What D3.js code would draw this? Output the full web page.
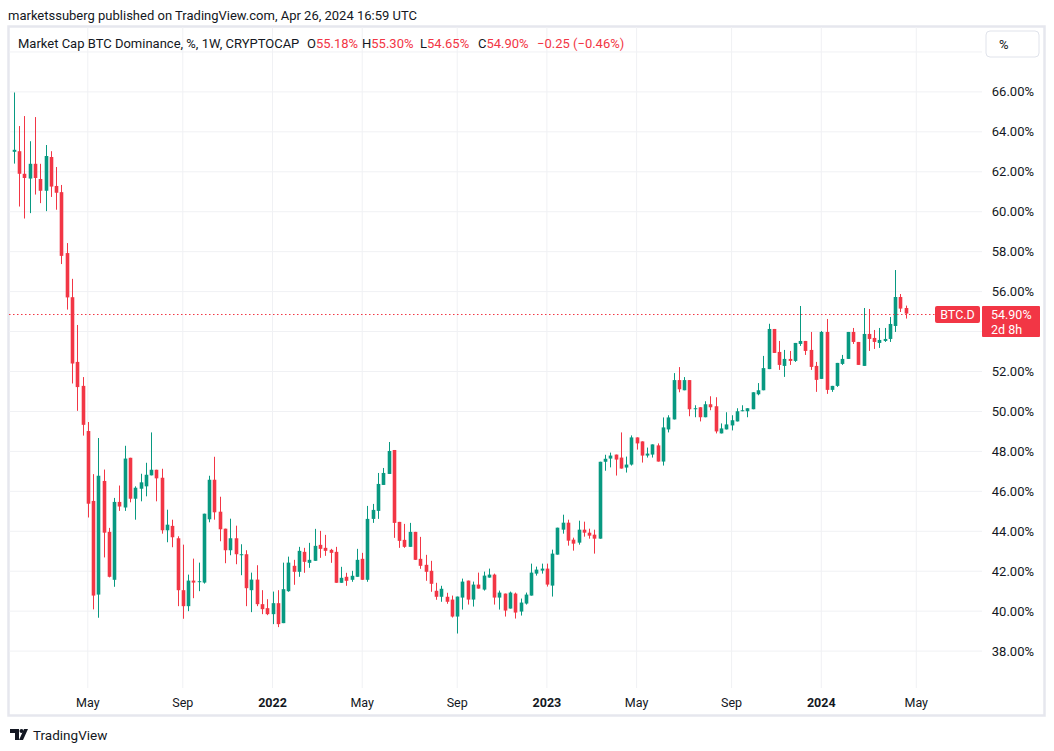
<!DOCTYPE html>
<html lang="en">
<head>
    <meta charset="UTF-8">
    <title>BTC Dominance</title>
    <script src="https://cdn.jsdelivr.net/npm/d3@7/dist/d3.min.js"></script>
    <style>
        body { margin: 0; background: #fff; }
        svg text { font-family: Roboto, "Noto Sans", sans-serif; }
    </style>
</head>
<body>

<div id="fig1"></div>

<script>
    var width = 1054;
    var height = 751;

    // weekly candles, first week starts Mon 25 Jan 2021
    const firstWeek = "2021-01-25";

    const opens = [
        63.00, 63.03, 61.90, 61.66, 62.40, 61.64, 61.05, 62.74, 61.29, 60.98,
        57.93, 55.72, 52.48, 51.28, 49.02, 45.52, 40.83, 46.52, 43.97, 41.57,
        45.47, 45.19, 47.68, 45.63, 46.13, 46.25, 46.80, 47.08, 46.68, 44.05,
        44.27, 43.65, 41.05, 40.25, 41.53, 41.47, 41.43, 44.60, 46.58, 44.98,
        44.13, 43.05, 43.65, 42.83, 42.85, 41.05, 41.58, 40.35, 40.15, 39.85,
        40.40, 39.40, 41.00, 42.27, 41.97, 42.97, 42.42, 42.52, 43.32, 43.17,
        43.07, 42.97, 41.42, 41.72, 41.57, 41.72, 42.62, 41.57, 44.62, 45.02,
        46.32, 46.87, 48.07, 44.47, 43.57, 43.22, 43.97, 42.62, 42.32, 42.02,
        41.02, 40.72, 40.72, 40.58, 39.73, 40.68, 41.53, 40.58, 41.33, 41.08,
        41.68, 41.83, 40.68, 40.88, 40.13, 40.88, 39.98, 40.38, 40.78, 41.88,
        42.03, 42.13, 41.28, 42.83, 44.08, 44.43, 43.58, 43.43, 44.08, 43.93,
        43.83, 43.63, 47.48, 47.64, 47.84, 47.69, 47.19, 47.34, 48.70, 48.50,
        47.79, 47.84, 48.30, 47.49, 49.10, 49.60, 51.57, 51.06, 51.57, 50.11,
        50.21, 49.71, 50.36, 50.26, 48.90, 49.10, 49.30, 49.50, 50.01, 50.01,
        50.11, 50.86, 51.06, 52.12, 54.13, 52.98, 52.28, 52.63, 52.53, 53.38,
        53.53, 53.08, 52.28, 51.63, 53.98, 51.08, 51.28, 52.38, 52.63, 53.98,
        53.48, 52.28, 53.88, 53.68, 53.43, 53.53, 53.63, 54.28, 55.73, 55.18
    ];
    const highs = [
        65.97, 64.29, 64.79, 63.53, 64.74, 62.40, 63.34, 63.03, 62.24, 61.34,
        58.43, 56.64, 54.33, 51.72, 49.47, 46.86, 48.67, 47.09, 44.17, 45.67,
        46.29, 48.28, 47.68, 46.25, 46.88, 47.43, 48.95, 47.08, 47.13, 45.08,
        44.58, 43.75, 43.33, 41.83, 42.63, 42.43, 44.88, 46.78, 47.73, 45.73,
        44.13, 44.63, 44.28, 43.35, 43.05, 41.93, 42.30, 41.05, 40.60, 40.98,
        41.05, 42.43, 42.73, 42.57, 43.22, 43.17, 43.42, 44.12, 44.02, 43.82,
        43.12, 43.22, 42.22, 41.92, 42.02, 43.12, 42.92, 45.27, 45.37, 46.92,
        47.17, 48.47, 48.07, 44.47, 44.37, 44.42, 43.97, 43.72, 42.82, 42.52,
        41.42, 41.27, 40.92, 40.78, 40.73, 41.63, 41.53, 41.48, 41.93, 41.98,
        42.13, 41.88, 41.03, 40.88, 40.98, 40.93, 40.63, 40.93, 42.38, 42.23,
        42.38, 42.38, 43.08, 44.18, 44.83, 44.58, 43.68, 44.53, 44.48, 44.13,
        44.08, 47.48, 47.83, 47.94, 47.84, 48.95, 47.74, 48.80, 48.70, 48.50,
        48.19, 48.35, 48.40, 49.70, 49.81, 51.92, 52.22, 51.72, 51.57, 50.31,
        50.21, 50.51, 50.76, 50.71, 49.40, 49.96, 49.81, 50.16, 50.31, 50.16,
        50.96, 51.42, 52.78, 54.39, 54.13, 53.53, 53.08, 53.03, 53.43, 55.28,
        53.53, 53.98, 52.48, 54.03, 54.63, 51.28, 52.43, 52.83, 53.98, 54.18,
        53.48, 55.18, 55.13, 54.08, 54.18, 54.18, 54.73, 57.08, 55.88, 55.30
    ];
    const lows = [
        62.41, 60.26, 59.66, 59.93, 60.86, 60.43, 60.03, 60.74, 60.10, 57.38,
        55.10, 51.40, 50.03, 48.79, 44.69, 40.09, 39.67, 42.69, 41.69, 41.22,
        45.02, 45.02, 45.45, 44.58, 45.50, 45.75, 46.80, 45.50, 43.88, 43.45,
        43.20, 40.25, 39.62, 40.00, 40.65, 41.00, 41.38, 44.45, 44.58, 43.50,
        42.40, 42.80, 42.35, 41.80, 40.25, 39.95, 40.25, 39.85, 39.80, 39.35,
        39.20, 39.40, 40.97, 41.32, 41.72, 41.92, 42.17, 42.52, 42.67, 42.77,
        42.42, 41.42, 41.42, 41.27, 41.47, 41.72, 41.57, 41.47, 44.42, 44.62,
        46.32, 46.87, 43.67, 43.17, 43.17, 43.22, 42.57, 42.12, 41.52, 40.97,
        40.57, 40.47, 40.37, 39.68, 38.88, 40.08, 40.33, 40.23, 41.13, 41.03,
        41.68, 40.33, 40.08, 39.73, 40.13, 39.63, 39.78, 40.33, 40.78, 41.78,
        41.88, 41.23, 40.73, 42.83, 43.88, 43.28, 43.03, 43.33, 43.73, 43.63,
        42.88, 43.63, 47.03, 47.20, 46.79, 47.14, 46.94, 47.29, 48.09, 47.44,
        47.69, 47.69, 47.49, 47.29, 48.95, 49.60, 50.96, 51.06, 49.76, 49.71,
        49.50, 49.71, 50.06, 48.90, 48.90, 49.10, 49.05, 49.50, 50.01, 49.71,
        50.11, 50.81, 51.06, 52.12, 52.93, 52.08, 51.73, 52.33, 52.48, 53.28,
        52.83, 52.08, 50.98, 51.63, 50.88, 50.98, 51.23, 52.33, 52.63, 53.38,
        52.33, 52.28, 53.03, 53.13, 53.18, 53.48, 53.48, 53.98, 54.98, 54.65
    ];
    const closes = [
        63.10, 61.90, 61.69, 62.40, 61.69, 61.05, 62.79, 61.26, 60.95, 57.79,
        55.71, 52.40, 51.22, 49.33, 45.38, 40.78, 46.78, 43.93, 41.72, 45.47,
        45.24, 47.64, 45.63, 46.18, 46.45, 46.83, 47.08, 46.65, 44.05, 44.33,
        43.70, 41.05, 40.25, 41.53, 41.43, 41.50, 44.88, 46.58, 44.95, 44.10,
        43.05, 43.65, 42.85, 42.85, 41.15, 41.58, 40.35, 40.10, 39.85, 40.40,
        39.35, 41.10, 42.43, 41.97, 43.02, 42.47, 42.57, 43.27, 43.12, 43.02,
        42.92, 41.42, 41.67, 41.52, 41.77, 42.57, 41.57, 44.62, 45.07, 46.37,
        46.92, 48.02, 44.42, 43.52, 43.22, 43.97, 42.57, 42.27, 41.97, 41.37,
        40.72, 41.12, 40.47, 39.73, 40.73, 41.48, 40.58, 41.33, 41.13, 41.78,
        41.83, 40.68, 40.93, 40.03, 40.93, 39.93, 40.43, 40.83, 41.93, 42.08,
        42.13, 41.33, 42.88, 44.18, 44.43, 43.53, 43.38, 44.08, 43.93, 43.78,
        43.63, 47.48, 47.63, 47.79, 47.59, 47.14, 47.34, 48.70, 48.40, 47.79,
        47.89, 48.35, 47.49, 49.20, 49.70, 51.57, 51.11, 51.57, 50.11, 50.16,
        49.71, 50.36, 50.21, 49.00, 49.15, 49.35, 49.56, 50.01, 50.06, 50.16,
        50.96, 51.06, 52.17, 54.13, 52.93, 52.33, 52.63, 52.53, 53.43, 53.53,
        53.03, 52.23, 51.58, 53.98, 51.08, 51.28, 52.43, 52.63, 53.98, 53.48,
        52.33, 53.88, 53.63, 53.48, 53.58, 53.63, 54.38, 55.73, 55.15, 54.90
    ];

    const priceTicks = [38, 40, 42, 44, 46, 48, 50, 52, 54, 56, 58, 60, 62, 64, 66, 68];
    const timeTicks = ["2021-05-03", "2021-09-06", "2022-01-03", "2022-05-02", "2022-09-05",
        "2023-01-02", "2023-05-01", "2023-09-04", "2024-01-01", "2024-05-06"];
    const timeLabels = ["May", "Sep", "2022", "May", "Sep", "2023", "May", "Sep", "2024", "May"];

    // legend line as shown on the snapshot
    const legendTitle = "Market Cap BTC Dominance, %, 1W, CRYPTOCAP";
    const legendKeys = ["O", "H", "L", "C"];
    const legendValues = ["55.18%", "55.30%", "54.65%", "54.90%"];
    const legendChange = "\u22120.25 (\u22120.46%)";
    const countdown = "2d 8h";

    const upColor = "#089981";
    const downColor = "#f23645";
    const textColor = "#131722";
    const gridColor = "#f0f1f4";

    var pane = {left: 9, right: 982, top: 27, bottom: 688};

    var parse = d3.utcParse("%Y-%m-%d");
    var start = parse(firstWeek);
    var candles = closes.map(function (c, i) {
        return {
            date: d3.utcDay.offset(start, 7 * i),
            o: opens[i], h: highs[i], l: lows[i], c: c
        };
    });
    var last = candles[candles.length - 1];

    var xScale = d3.scaleUtc()
        .domain([parse("2022-01-03"), parse("2024-01-01")])
        .range([272.5, 821.3]);
    var yScale = d3.scaleLinear()
        .domain([38, 66])
        .range([651.1, 91.9]);

    var lastY = Math.round(yScale(last.c)) + 0.5;
    // price box on the axis: top and bottom
    var boxTop = lastY - 8.5, boxBottom = lastY + 22.5;

    var fig1 = d3.select("#fig1").append("svg")
        .attr("width", width)
        .attr("height", height)
        .attr("viewBox", [0, 0, width, height]);

    fig1.append("rect")
        .attr("width", width).attr("height", height)
        .attr("fill", "#fff");

    // header
    fig1.append("text")
        .attr("x", 8)
        .attr("y", 20)
        .attr("font-size", 13)
        .attr("fill", textColor)
        .text("marketssuberg published on TradingView.com, Apr 26, 2024 16:59 UTC");

    // frame
    fig1.append("rect")
        .attr("x", 8.5).attr("y", 26.5)
        .attr("width", 1036).attr("height", 689)
        .attr("fill", "none")
        .attr("stroke", "#e6e7ee")
        .attr("stroke-width", 2.5);

    // grid
    var grid = fig1.append("g");
    grid.selectAll(".hgrid")
        .data(priceTicks)
        .join("line")
        .attr("x1", pane.left).attr("x2", pane.right)
        .attr("y1", d => yScale(d)).attr("y2", d => yScale(d))
        .attr("stroke", gridColor)
        .attr("stroke-width", 1);
    grid.selectAll(".vgrid")
        .data(timeTicks)
        .join("line")
        .attr("x1", d => xScale(parse(d))).attr("x2", d => xScale(parse(d)))
        .attr("y1", pane.top).attr("y2", pane.bottom)
        .attr("stroke", gridColor)
        .attr("stroke-width", 1);

    // price axis labels (the ones under the price box and % button are hidden)
    fig1.append("g")
        .selectAll("text")
        .data(priceTicks.filter(d => d <= 66 &&
            !(yScale(d) + 7 > boxTop && yScale(d) - 7 < boxBottom)))
        .join("text")
        .attr("x", 1034)
        .attr("y", d => yScale(d) + 4.5)
        .attr("text-anchor", "end")
        .attr("font-size", 13)
        .attr("fill", textColor)
        .text(d => d3.format(".2f")(d) + "%");

    // time axis labels
    fig1.append("g")
        .selectAll("text")
        .data(timeTicks)
        .join("text")
        .attr("x", d => xScale(parse(d)))
        .attr("y", 706.5)
        .attr("text-anchor", "middle")
        .attr("font-size", 12.5)
        .attr("font-weight", (d, i) => /^\d/.test(timeLabels[i]) ? 700 : 400)
        .attr("fill", textColor)
        .text((d, i) => timeLabels[i]);

    // candles
    fig1.append("clipPath").attr("id", "paneClip")
        .append("rect")
        .attr("x", pane.left).attr("y", pane.top)
        .attr("width", pane.right - pane.left).attr("height", pane.bottom - pane.top);

    var candleG = fig1.append("g").attr("clip-path", "url(#paneClip)");
    var bodyW = 3.6;

    candleG.selectAll(".wick")
        .data(candles)
        .join("line")
        .attr("x1", d => Math.round(xScale(d.date)) + 0.5)
        .attr("x2", d => Math.round(xScale(d.date)) + 0.5)
        .attr("y1", d => yScale(d.h))
        .attr("y2", d => yScale(d.l))
        .attr("stroke", d => d.c >= d.o ? upColor : downColor)
        .attr("stroke-width", 1);

    candleG.selectAll(".body")
        .data(candles)
        .join("rect")
        .attr("x", d => Math.round(xScale(d.date)) + 0.5 - bodyW / 2)
        .attr("width", bodyW)
        .attr("y", d => yScale(Math.max(d.o, d.c)))
        .attr("height", d => Math.max(1, Math.abs(yScale(d.o) - yScale(d.c))))
        .attr("fill", d => d.c >= d.o ? upColor : downColor);

    // last price line
    fig1.append("line")
        .attr("x1", pane.left).attr("x2", 935)
        .attr("y1", lastY).attr("y2", lastY)
        .attr("stroke", downColor)
        .attr("stroke-width", 1)
        .attr("stroke-dasharray", "1.5,2.5");

    fig1.append("rect")
        .attr("x", 935).attr("y", lastY - 8.5)
        .attr("width", 45).attr("height", 17)
        .attr("rx", 2)
        .attr("fill", downColor);
    fig1.append("text")
        .attr("x", 957.5).attr("y", lastY + 4.5)
        .attr("text-anchor", "middle")
        .attr("font-size", 12.5)
        .attr("fill", "#fff")
        .text("BTC.D");

    fig1.append("rect")
        .attr("x", 982).attr("y", boxTop)
        .attr("width", 58).attr("height", boxBottom - boxTop)
        .attr("rx", 1)
        .attr("fill", downColor);
    fig1.append("text")
        .attr("x", 991).attr("y", lastY + 4)
        .attr("font-size", 12.5)
        .attr("fill", "#fff")
        .text(d3.format(".2f")(last.c) + "%");
    fig1.append("text")
        .attr("x", 991).attr("y", lastY + 19)
        .attr("font-size", 12.5)
        .attr("fill", "#fff")
        .text(countdown);

    // % button
    fig1.append("rect")
        .attr("x", 986).attr("y", 31)
        .attr("width", 53).attr("height", 26)
        .attr("rx", 4)
        .attr("fill", "#fff")
        .attr("stroke", "#e0e3eb");
    fig1.append("text")
        .attr("x", 999).attr("y", 49)
        .attr("font-size", 13)
        .attr("fill", textColor)
        .text("%");

    // legend
    var legendY = 48;
    fig1.append("text")
        .attr("x", 18).attr("y", legendY)
        .attr("font-size", 13)
        .attr("fill", textColor)
        .text(legendTitle);

    var legendX = [307, 362, 420, 478];
    legendKeys.forEach(function (k, i) {
        var t = fig1.append("text")
            .attr("x", legendX[i]).attr("y", legendY)
            .attr("font-size", 13)
            .attr("fill", textColor);
        t.append("tspan").text(k);
        t.append("tspan").attr("fill", downColor).text(legendValues[i]);
    });
    fig1.append("text")
        .attr("x", 537).attr("y", legendY)
        .attr("font-size", 13)
        .attr("fill", downColor)
        .text(legendChange);

    // footer logo
    var logo = fig1.append("g").attr("transform", "translate(10,729)");
    logo.append("path")
        .attr("d", "M0,0 H9 V11 H5 V4 H0 Z")
        .attr("fill", textColor);
    logo.append("circle")
        .attr("cx", 11.5).attr("cy", 2)
        .attr("r", 2)
        .attr("fill", textColor);
    logo.append("path")
        .attr("d", "M14,0 H18 L13,11 H9 Z")
        .attr("fill", textColor);
    fig1.append("text")
        .attr("x", 33).attr("y", 740)
        .attr("font-size", 13.5)
        .attr("fill", textColor)
        .text("TradingView");
</script>

</body>
</html>
